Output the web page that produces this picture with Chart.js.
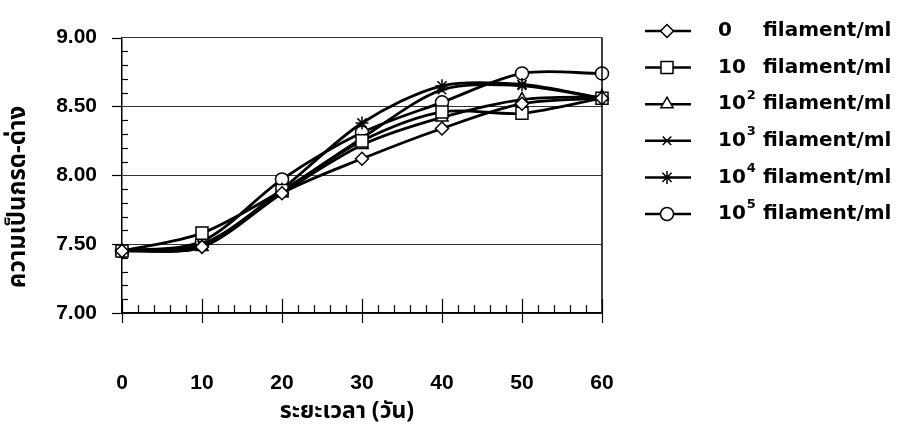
<!DOCTYPE html>
<html><head><meta charset="utf-8">
<script src="https://cdn.jsdelivr.net/npm/chart.js@4/dist/chart.umd.min.js"></script>
<style>html,body{margin:0;padding:0;background:#fff}#wrap{width:905px;height:430px;position:relative}</style>
</head><body><div id="wrap"><canvas id="c" width="905" height="430"></canvas></div>
<script>
const days = [0,10,20,30,40,50,60];
const seriesBase = ['0','10','10','10','10','10'];
const seriesExp = ['','','2','3','4','5'];
const unitLabel = 'filament/ml';
const s0 = [7.45,7.48,7.87,8.12,8.34,8.52,8.56];
const s1 = [7.45,7.58,7.89,8.25,8.46,8.45,8.56];
const s2 = [7.45,7.48,7.87,8.22,8.42,8.55,8.57];
const s3 = [7.45,7.50,7.88,8.27,8.62,8.65,8.56];
const s4 = [7.45,7.49,7.90,8.38,8.65,8.66,8.56];
const s5 = [7.45,7.52,7.97,8.31,8.53,8.74,8.74];
const yTicks = [7.00,7.50,8.00,8.50,9.00];
const xTicks = [0,10,20,30,40,50,60];
const yTitle = 'ความเป็นกรด-ด่าง';
const xTitle = 'ระยะเวลา (วัน)';

const allSeries = [s0,s1,s2,s3,s4,s5];
const markers = ['rectRot','rect','triangle','crossRot','star','circle'];
const radii = [6.5,8.5,7,6,6.5,6.5];
const numFont = '"Liberation Sans", Arial, sans-serif';
const legFont = '"DejaVu Sans", sans-serif';
const thaiFont = '"Noto Sans Thai","Noto Sans Thai UI","Loma","Garuda","Tlwg Typo","Noto Sans","DejaVu Sans",sans-serif';

const datasets = allSeries.map((s,i)=>({
  label: seriesBase[i]+(seriesExp[i]?'^'+seriesExp[i]:'')+' '+unitLabel,
  data: s.map((v,j)=>({x:days[j], y:v})),
  borderColor:'#000', borderWidth:2.8, tension:0.3,
  pointStyle: markers[i], pointRadius: radii[i], pointBorderWidth:1.5,
  pointBackgroundColor:'#fff', pointBorderColor:'#000', clip:false, fill:false
}));

const extras = {
  id:'extras',
  afterDraw(chart){
    const ctx = chart.ctx, a = chart.chartArea, xs = chart.scales.x, ys = chart.scales.y;
    ctx.save();
    ctx.strokeStyle = '#000'; ctx.lineWidth = 1.5;
    ctx.beginPath(); ctx.moveTo(a.right, a.top); ctx.lineTo(a.right, a.bottom); ctx.stroke();
    ctx.lineWidth = 1.2;
    for (let k=0;k<=20;k++){
      const v = 7 + k*0.1, py = Math.round(ys.getPixelForValue(v))+0.5;
      ctx.beginPath();
      if (k%5===0){ ctx.moveTo(a.left-10, py); ctx.lineTo(a.left, py); }
      else { ctx.moveTo(a.left, py); ctx.lineTo(a.left+6, py); }
      ctx.stroke();
    }
    for (let k=0;k<=30;k++){
      const v = k*2, px = Math.round(xs.getPixelForValue(v))+0.5;
      ctx.beginPath();
      if (k%5===0){ ctx.moveTo(px, a.bottom-14); ctx.lineTo(px, a.bottom+10); }
      else { ctx.moveTo(px, a.bottom-8); ctx.lineTo(px, a.bottom); }
      ctx.stroke();
    }
    ctx.fillStyle = '#000';
    ctx.textAlign = 'center'; ctx.textBaseline = 'middle';
    ctx.font = 'bold 23px '+thaiFont;
    ctx.fillText(xTitle, 347, 413);
    ctx.save();
    ctx.translate(20, 197); ctx.rotate(-Math.PI/2);
    ctx.font = 'bold 24px '+thaiFont;
    ctx.fillText(yTitle, 0, 0);
    ctx.restore();
    const rowY0 = 31, rowStep = 36.6;
    chart.data.datasets.forEach((ds,i)=>{
      const y = rowY0 + i*rowStep;
      ctx.strokeStyle = '#000'; ctx.lineWidth = 2.5;
      ctx.beginPath(); ctx.moveTo(645, y); ctx.lineTo(691, y); ctx.stroke();
      ctx.fillStyle = '#fff'; ctx.strokeStyle = '#000'; ctx.lineWidth = 1.5;
      Chart.helpers.drawPoint(ctx, {pointStyle: ds.pointStyle, radius: ds.pointRadius, rotation:0, borderWidth:1.5}, 667, y);
      ctx.fillStyle = '#000';
      ctx.textAlign = 'left'; ctx.textBaseline = 'middle';
      ctx.font = 'bold 20px '+legFont;
      ctx.fillText(seriesBase[i], 718, y);
      const w = ctx.measureText(seriesBase[i]).width;
      if (seriesExp[i]) {
        ctx.font = 'bold 13px '+legFont;
        ctx.fillText(seriesExp[i], 718 + w + 1, y - 9);
      }
      ctx.font = 'bold 20px '+legFont;
      ctx.fillText(unitLabel, 763, y);
    });
    ctx.restore();
  }
};

new Chart(document.getElementById('c'), {
  type:'line',
  data:{datasets},
  options:{
    responsive:false, animation:false, devicePixelRatio:1,
    layout:{padding:{top:22,right:303,left:0,bottom:0}},
    plugins:{legend:{display:false}, tooltip:{enabled:false}},
    scales:{
      x:{type:'linear', min:0, max:60,
        afterBuildTicks: s => { s.ticks = xTicks.map(v=>({value:v})); },
        grid:{display:true, drawOnChartArea:false, drawTicks:false},
        border:{display:true, color:'#000', width:1.5},
        ticks:{padding:58, color:'#000', font:{size:21, weight:'bold', family:numFont}, maxRotation:0},
        afterFit: s => { s.height = 117; }
      },
      y:{type:'linear', min:7, max:9,
        afterBuildTicks: s => { s.ticks = yTicks.map(v=>({value:v})); },
        grid:{color:'#333', lineWidth:1, drawTicks:false},
        border:{display:true, color:'#000', width:1.5},
        ticks:{padding:25, color:'#000', font:{size:21, weight:'bold', family:numFont}, callback: v => Number(v).toFixed(2)},
        afterFit: s => { s.width = 122; }
      }
    }
  },
  plugins:[extras]
});
</script></body></html>
